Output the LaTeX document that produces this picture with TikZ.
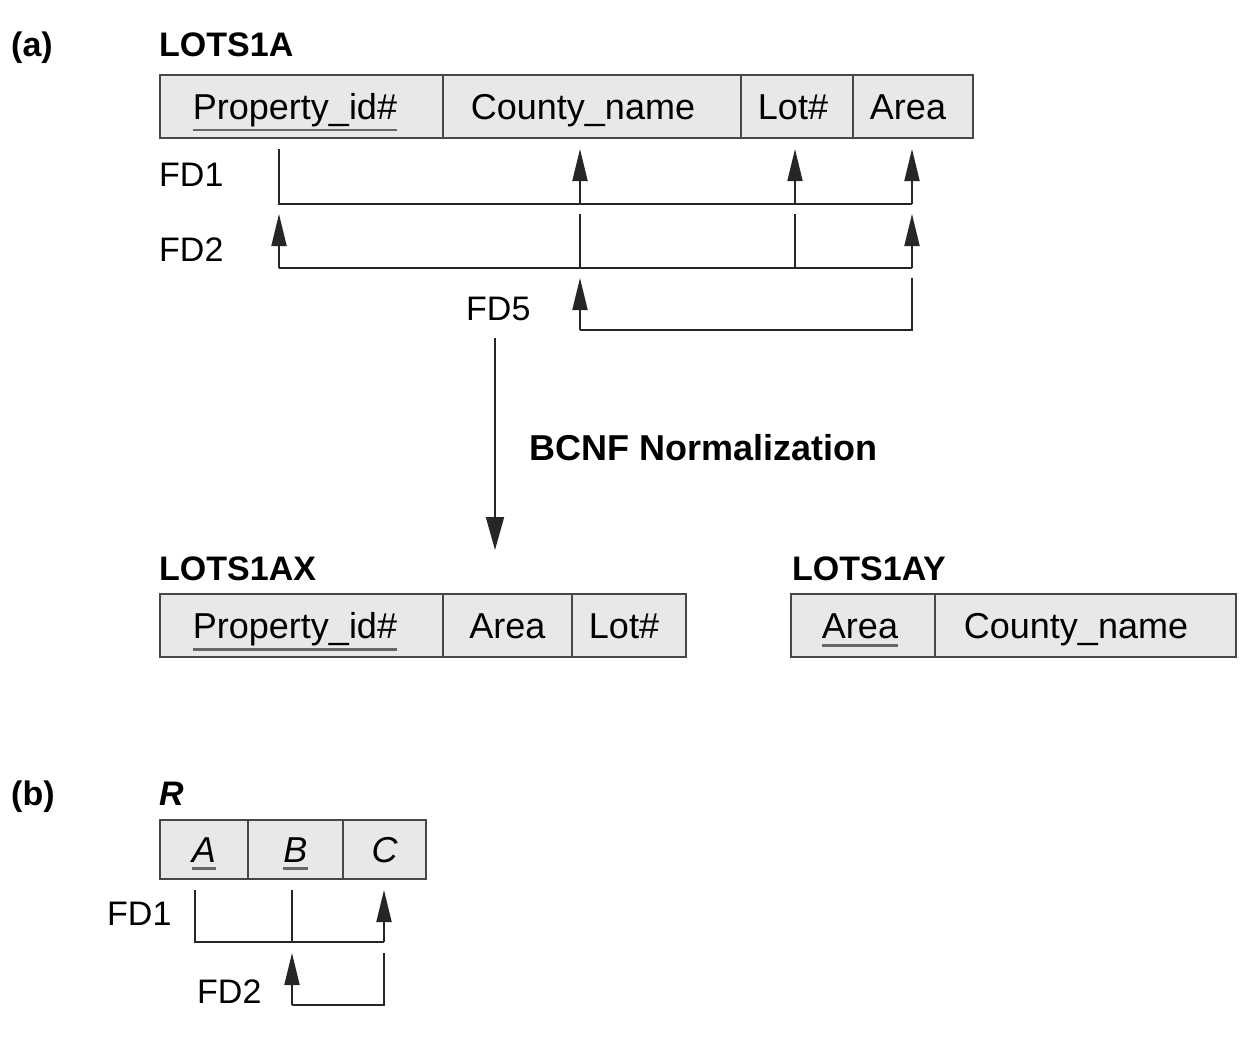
\documentclass[tikz,border=0pt]{standalone}
\usepackage{fontspec}
\setmainfont{Liberation Sans}
\usetikzlibrary{arrows.meta}
\newsavebox\ulbox
\newcommand\keyul[2][12pt]{\sbox\ulbox{#2}\rlap{\usebox\ulbox}\raisebox{-#1}{\textcolor{black!60}{\rule{\wd\ulbox}{2.2pt}}}}
\newcommand\lft[1]{\hspace*{#1}}
\begin{document}
\begin{tikzpicture}[x=1pt,y=-1pt,
  cell/.style={draw=black!72, line width=1.8pt, fill=black!9, inner sep=0pt,
    text height=26pt, text depth=0pt, font=\fontsize{36}{40}\selectfont},
  ttl/.style={anchor=base west, inner sep=0pt, font=\fontsize{34}{38}\selectfont\bfseries},
  fdl/.style={anchor=base west, inner sep=0pt, font=\fontsize{34}{38}\selectfont},
  fd/.style={draw=black!85, line width=1.9pt},
  fda/.style={fd, -{Triangle[length=32pt,width=15pt]}},
  big/.style={draw=black!85, line width=1.9pt, -{Triangle[length=33pt,width=18pt]}}
]
\useasboundingbox (0,0) rectangle (1254,1041);

% ---------- (a) ----------
\node[ttl] (la) at (11,57) {(a)};
\node[ttl] (t1) at (159,57) {LOTS1A};

\node[cell, minimum width=283pt, minimum height=63pt] (a1) at (301.5,106.5) {\keyul{Property\_id\#}\lft{13pt}};
\node[cell, minimum width=298pt, minimum height=63pt] (a2) at (592,106.5) {County\_name\lft{18pt}};
\node[cell, minimum width=112pt, minimum height=63pt] (a3) at (797,106.5) {Lot\#\lft{8pt}};
\node[cell, minimum width=120pt, minimum height=63pt] (a4) at (913,106.5) {Area\lft{10pt}};

% column / row coordinates
\coordinate (P) at (279,0);
\coordinate (C) at (580,0);
\coordinate (L) at (795,0);
\coordinate (A) at (912,0);
\coordinate (r1t) at (0,149);
\coordinate (r1b) at (0,204);
\coordinate (r2t) at (0,214);
\coordinate (r2b) at (0,268);
\coordinate (r3t) at (0,278);
\coordinate (r3b) at (0,330);

\node[fdl] (fd1) at (159,186) {FD1};
\node[fdl] (fd2) at (159,261) {FD2};
\node[fdl] (fd5) at (466,320) {FD5};

% FD1
\draw[fd] (P|-r1t) -- (P|-r1b) -- (A|-r1b);
\draw[fda] (C|-r1b) -- (C|-r1t);
\draw[fda] (L|-r1b) -- (L|-r1t);
\draw[fda] (A|-r1b) -- (A|-r1t);
% FD2
\draw[fd] (C|-r2t) -- (C|-r2b);
\draw[fd] (L|-r2t) -- (L|-r2b);
\draw[fd] (P|-r2b) -- (A|-r2b);
\draw[fda] (P|-r2b) -- (P|-r2t);
\draw[fda] (A|-r2b) -- (A|-r2t);
% FD5
\draw[fd] (A|-r3t) -- (A|-r3b) -- (C|-r3b);
\draw[fda] (C|-r3b) -- (C|-r3t);

% normalization arrow
\coordinate (n1) at (495,338);
\coordinate (n2) at (495,550);
\draw[big] (n1) -- (n2);
\node[anchor=base west, inner sep=0pt, font=\fontsize{36}{40}\selectfont\bfseries] (bcnf) at (529,460) {BCNF Normalization};

% LOTS1AX
\node[ttl] (t2) at (159,580) {LOTS1AX};
\node[cell, minimum width=283pt, minimum height=63pt] (x1) at (301.5,625.5) {\keyul{Property\_id\#}\lft{13pt}};
\node[cell, minimum width=129pt, minimum height=63pt] (x2) at (507.5,625.5) {Area};
\node[cell, minimum width=114pt, minimum height=63pt] (x3) at (629,625.5) {Lot\#\lft{10pt}};

% LOTS1AY
\node[ttl] (t3) at (792,580) {LOTS1AY};
\node[cell, minimum width=144pt, minimum height=63pt] (y1) at (863,625.5) {\keyul[8pt]{Area}\lft{6pt}};
\node[cell, minimum width=301pt, minimum height=63pt] (y2) at (1085.5,625.5) {County\_name\lft{19pt}};

% ---------- (b) ----------
\node[ttl] (lb) at (11,805) {(b)};
\node[ttl] (tr) at (159,805) {\itshape R};

\node[cell, minimum width=88pt, minimum height=59pt] (b1) at (204,849.5) {\itshape\keyul[7pt]{A}};
\node[cell, minimum width=95pt, minimum height=59pt] (b2) at (295.5,849.5) {\itshape\keyul[7pt]{B}};
\node[cell, minimum width=83pt, minimum height=59pt] (b3) at (384.5,849.5) {\itshape C};

\coordinate (bA) at (195,0);
\coordinate (bB) at (292,0);
\coordinate (bC) at (384,0);
\coordinate (s1t) at (0,890);
\coordinate (s1b) at (0,942);
\coordinate (s2t) at (0,953);
\coordinate (s2b) at (0,1005);

\node[fdl] (bfd1) at (107,925) {FD1};
\node[fdl] (bfd2) at (197,1003) {FD2};

\draw[fd] (bA|-s1t) -- (bA|-s1b) -- (bC|-s1b);
\draw[fd] (bB|-s1t) -- (bB|-s1b);
\draw[fda] (bC|-s1b) -- (bC|-s1t);
\draw[fd] (bC|-s2t) -- (bC|-s2b) -- (bB|-s2b);
\draw[fda] (bB|-s2b) -- (bB|-s2t);
\end{tikzpicture}
\end{document}
